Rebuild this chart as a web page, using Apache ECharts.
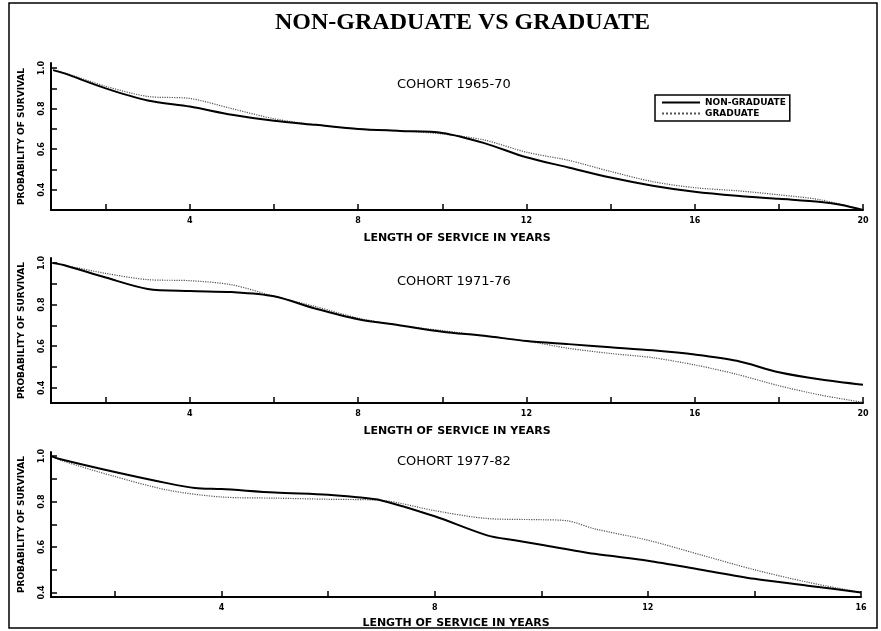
<!DOCTYPE html>
<html><head><meta charset="utf-8">
<script src="https://cdn.jsdelivr.net/npm/echarts@6/dist/echarts.min.js"></script>
<style>html,body{margin:0;padding:0;background:#fff}#c{width:881px;height:631px}</style>
</head><body><div id="c"></div>
<script>
// ---- data ----
const titleText = 'NON-GRADUATE VS GRADUATE';
const cohortLabels = ['COHORT 1965-70', 'COHORT 1971-76', 'COHORT 1977-82'];
const seriesNames = ['NON-GRADUATE', 'GRADUATE'];
const xAxisTitle = 'LENGTH OF SERVICE IN YEARS';
const yAxisTitle = 'PROBABILITY OF SURVIVAL';

// panel 1 (cohort 1965-70): [years, survival]
const p1NonGrad = [[0.75,0.99],[1,0.975],[2,0.90],[3,0.84],[4,0.81],[5,0.77],[6,0.74],[7,0.72],[8,0.70],[9,0.69],[10,0.68],[11,0.63],[12,0.56],[13,0.51],[14,0.46],[15,0.42],[16,0.39],[17,0.37],[18,0.355],[19,0.34],[19.5,0.325],[20,0.30]];
const p1Grad = [[0.75,0.99],[1,0.978],[2,0.91],[3,0.86],[4,0.85],[5,0.80],[6,0.75],[7,0.72],[8,0.70],[9,0.69],[10,0.675],[11,0.645],[12,0.585],[13,0.545],[14,0.49],[15,0.44],[16,0.41],[17,0.395],[18,0.375],[19,0.35],[20,0.30]];
// panel 2 (cohort 1971-76)
const p2NonGrad = [[0.75,1.0],[1,0.99],[2,0.93],[3,0.875],[4,0.865],[5,0.86],[6,0.84],[7,0.78],[8,0.73],[9,0.70],[10,0.67],[11,0.65],[12,0.625],[13,0.61],[14,0.595],[15,0.58],[16,0.56],[17,0.53],[18,0.475],[19,0.44],[20,0.415]];
const p2Grad = [[0.75,1.0],[1,0.99],[2,0.95],[3,0.92],[4,0.915],[5,0.895],[6,0.84],[7,0.79],[8,0.735],[9,0.70],[10,0.675],[11,0.65],[12,0.625],[13,0.59],[14,0.565],[15,0.545],[16,0.51],[17,0.465],[18,0.41],[19,0.365],[20,0.33]];
// panel 3 (cohort 1977-82)
const p3NonGrad = [[0.8,1.0],[1,0.985],[2,0.93],[3,0.88],[3.5,0.86],[4,0.855],[5,0.84],[6,0.83],[6.5,0.82],[7,0.805],[8,0.735],[9,0.65],[9.5,0.63],[10,0.61],[11,0.57],[12,0.54],[13,0.50],[14,0.46],[15,0.43],[16,0.40]];
const p3Grad = [[0.8,1.0],[1,0.98],[2,0.91],[3,0.85],[4,0.82],[5,0.815],[6,0.81],[7,0.805],[8,0.76],[9,0.725],[10,0.72],[10.5,0.715],[11,0.68],[12,0.63],[13,0.565],[14,0.50],[15,0.445],[16,0.40]];

const xTicks20 = [2,4,6,8,10,12,14,16,18,20];
const xLabels20 = [4,8,12,16,20];
const xTicks16 = [2,4,6,8,10,12,14,16];
const xLabels16 = [4,8,12,16];
const yTicks = [0.4,0.5,0.6,0.7,0.8,0.9,1.0];
const yLabels = [0.4,0.6,0.8,1.0];

// ---- layout ----
const panels = [
  {top:63, height:147, right:18, xmin:0.7, xmax:20, ymin:0.30, ymax:1.025, xt:xTicks20, xl:xLabels20, d:[p1NonGrad,p1Grad], cy:86},
  {top:258, height:145, right:18, xmin:0.7, xmax:20, ymin:0.327, ymax:1.024, xt:xTicks20, xl:xLabels20, d:[p2NonGrad,p2Grad], cy:283},
  {top:452, height:145, right:20, xmin:0.8, xmax:16, ymin:0.38, ymax:1.018, xt:xTicks16, xl:xLabels16, d:[p3NonGrad,p3Grad], cy:463}
];
const F = 'DejaVu Sans';
const grid=[], xAxis=[], yAxis=[], series=[], graphic=[];
panels.forEach((p,i)=>{
  grid.push({left:51, right:p.right, top:p.top, height:p.height});
  xAxis.push({type:'value', gridIndex:i, min:p.xmin, max:p.xmax,
    axisLine:{onZero:false, lineStyle:{color:'#000', width:2}},
    axisTick:{inside:true, length:6, customValues:p.xt, lineStyle:{color:'#000', width:1.5}},
    axisLabel:{customValues:p.xl, color:'#000', fontFamily:F, fontWeight:'bold', fontSize:8, margin:7},
    splitLine:{show:false},
    name:xAxisTitle, nameLocation:'middle', nameGap:i===2?21:23,
    nameTextStyle:{color:'#000', fontFamily:F, fontWeight:'bold', fontSize:11}});
  yAxis.push({type:'value', gridIndex:i, min:p.ymin, max:p.ymax,
    axisLine:{onZero:false, lineStyle:{color:'#000', width:2}},
    axisTick:{inside:true, length:6, customValues:yTicks, lineStyle:{color:'#000', width:1.5}},
    axisLabel:{customValues:yLabels, rotate:90, formatter:v=>v.toFixed(1), color:'#000', fontFamily:F, fontWeight:'bold', fontSize:8, margin:5},
    splitLine:{show:false},
    name:yAxisTitle, nameLocation:'middle', nameGap:25, nameRotate:90,
    nameTextStyle:{color:'#000', fontFamily:F, fontWeight:'bold', fontSize:9}});
  series.push({type:'line', name:seriesNames[0], xAxisIndex:i, yAxisIndex:i, data:p.d[0], symbol:'none', smooth:0.3,
    lineStyle:{color:'#000', width:2}, itemStyle:{color:'#000'}, z:3});
  series.push({type:'line', name:seriesNames[1], xAxisIndex:i, yAxisIndex:i, data:p.d[1], symbol:'none', smooth:0.3,
    lineStyle:{color:'#555', width:1.2, type:'dotted'}, itemStyle:{color:'#555'}, z:2});
  graphic.push({type:'text', left:397, top:p.cy-8, style:{text:cohortLabels[i], font:'13px "DejaVu Sans"', fill:'#000'}});
});
graphic.push({type:'rect', shape:{x:9, y:3, width:868, height:625}, style:{fill:'none', stroke:'#000', lineWidth:1.5}, silent:true});

const chart = echarts.init(document.getElementById('c'), null, {renderer:'canvas'});
chart.setOption({
  animation:false,
  backgroundColor:'#fff',
  title:{text:titleText, left:270, top:6, textStyle:{fontFamily:'Liberation Serif', fontWeight:'bold', fontSize:24, color:'#000'}},
  legend:{data:seriesNames, left:655, top:95, orient:'vertical', itemWidth:38, itemHeight:8, itemGap:2,
    itemStyle:{opacity:0},
    borderColor:'#000', borderWidth:1.5, padding:[3,4,3,6],
    textStyle:{fontFamily:F, fontWeight:'bold', fontSize:9, color:'#000'}},
  grid, xAxis, yAxis, series, graphic
});
</script></body></html>
